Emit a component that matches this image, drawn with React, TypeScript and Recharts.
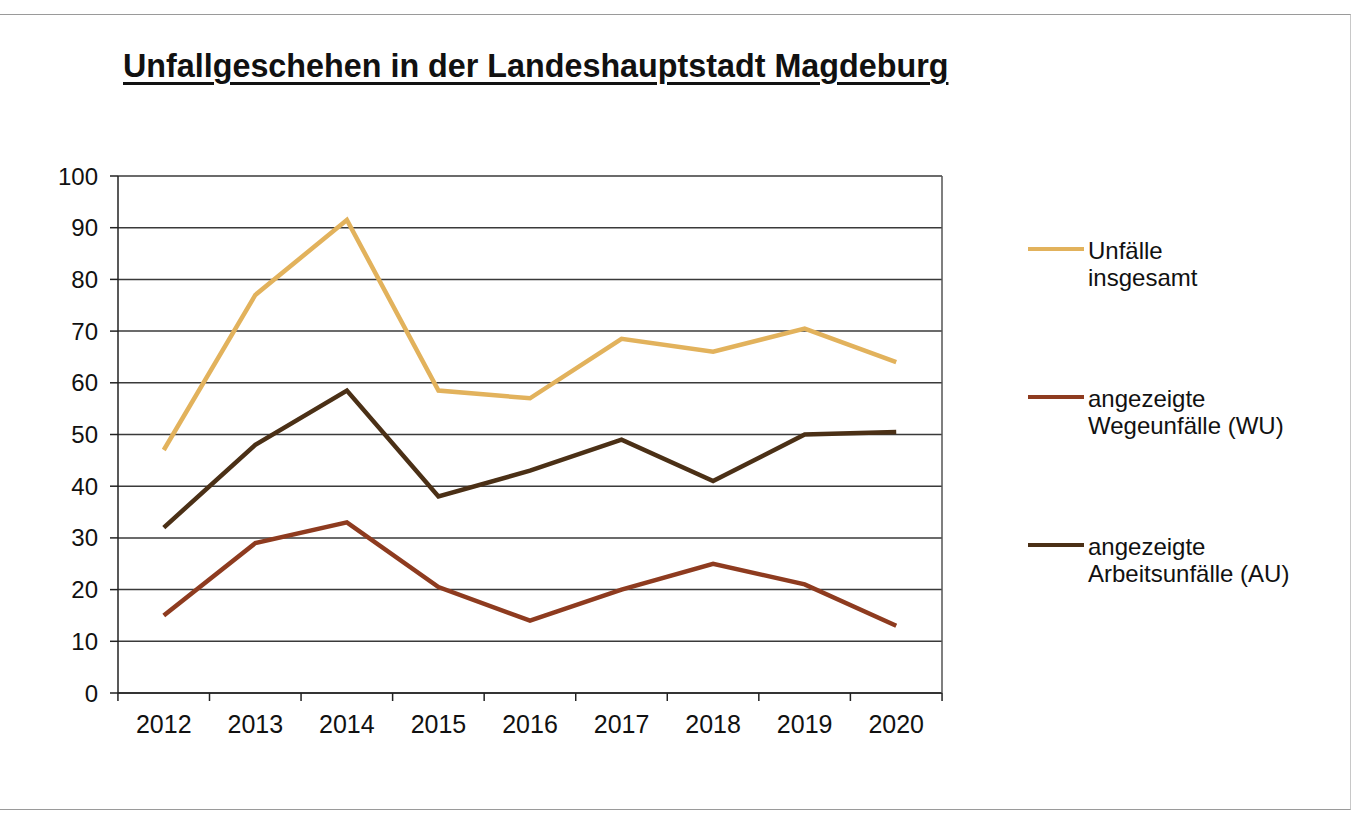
import { CartesianGrid, Line, LineChart, XAxis, YAxis } from 'recharts';

const years = ['2012', '2013', '2014', '2015', '2016', '2017', '2018', '2019', '2020'];
const totalAccidents = [47, 77, 91.5, 58.5, 57, 68.5, 66, 70.5, 64];
const commuteAccidents = [15, 29, 33, 20.5, 14, 20, 25, 21, 13];
const workAccidents = [32, 48, 58.5, 38, 43, 49, 41, 50, 50.5];
const yTicks = [0, 10, 20, 30, 40, 50, 60, 70, 80, 90, 100];
const seriesKeys = ['total', 'wu', 'au'];
const seriesLabels = ['Unfälle\ninsgesamt', 'angezeigte\nWegeunfälle (WU)', 'angezeigte\nArbeitsunfälle (AU)'];
const seriesColors = ['#E2B25C', '#8E3B1F', '#4B3016'];

const data = years.map((year, i) => ({
  year,
  total: totalAccidents[i],
  wu: commuteAccidents[i],
  au: workAccidents[i],
}));

const FONT = '"Liberation Sans", Arial, sans-serif';
const HALF_BAND = 825 / years.length / 2;

function YearTick(props: any) {
  const { x, y, payload, index } = props;
  const isLast = index === years.length - 1;
  return (
    <g>
      <line x1={x - HALF_BAND} y1={y - 8} x2={x - HALF_BAND} y2={y} stroke="#222" strokeWidth={1.5} />
      {isLast && <line x1={x + HALF_BAND} y1={y - 8} x2={x + HALF_BAND} y2={y} stroke="#222" strokeWidth={1.5} />}
      <text x={x} y={y + 32} textAnchor="middle" fill="#111" fontSize={25} fontFamily={FONT}>
        {payload.value}
      </text>
    </g>
  );
}

function SideLegend() {
  return (
    <div style={{ position: 'absolute', left: 1028, top: 237, fontFamily: FONT, fontSize: 24, color: '#111' }}>
      {seriesLabels.map((label, i) => (
        <div key={label} style={{ display: 'flex', alignItems: 'flex-start', height: 148 }}>
          <div style={{ width: 56, height: 4, background: seriesColors[i], marginTop: 10, marginRight: 4 }} />
          <div style={{ lineHeight: '27px' }}>
            {label.split('\n').map(line => (
              <div key={line}>{line}</div>
            ))}
          </div>
        </div>
      ))}
    </div>
  );
}

export default function App() {
  return (
    <div style={{ position: 'absolute', left: 0, top: 0, width: 1364, height: 814, background: '#fff', overflow: 'hidden' }}>
      <div style={{ position: 'absolute', left: -2, top: 14, width: 1352, height: 794, borderTop: '1.5px solid #9a9a9a', borderBottom: '1.5px solid #9a9a9a', borderRight: '1px solid #c8c8c8' }} />
      <div
        style={{
          position: 'absolute', left: 123, top: 48, fontFamily: FONT, fontWeight: 700, fontSize: 32.3,
          color: '#111', textDecoration: 'underline', textUnderlineOffset: 5, textDecorationThickness: 3, whiteSpace: 'nowrap',
        }}
      >
        Unfallgeschehen in der Landeshauptstadt Magdeburg
      </div>
      <div style={{ position: 'absolute', left: 0, top: 0 }}>
        <LineChart width={1364} height={814} data={data} margin={{ top: 176, right: 421, bottom: 71, left: 48 }}>
          <CartesianGrid vertical={false} stroke="#3a3a3a" strokeWidth={1.5} />
          <XAxis
            dataKey="year"
            scale="band"
            tickLine={false}
            axisLine={{ stroke: '#222', strokeWidth: 1.5 }}
            height={50}
            tick={<YearTick />}
            interval={0}
          />
          <YAxis
            domain={[0, 100]}
            ticks={yTicks}
            width={70}
            tickSize={8}
            tickMargin={12}
            axisLine={{ stroke: '#222', strokeWidth: 1.5 }}
            tickLine={{ stroke: '#222', strokeWidth: 1.5 }}
            tick={{ fill: '#111', fontSize: 24, fontFamily: FONT }}
          />
          <YAxis yAxisId="frame" orientation="right" domain={[0, 100]} tick={false} tickLine={false} width={1} axisLine={{ stroke: '#555', strokeWidth: 1.5 }} />
          {seriesKeys.map((key, i) => (
            <Line
              key={key}
              type="linear"
              dataKey={key}
              name={seriesLabels[i]}
              stroke={seriesColors[i]}
              strokeWidth={4.5}
              dot={false}
              isAnimationActive={false}
            />
          ))}
        </LineChart>
      </div>
      <SideLegend />
    </div>
  );
}
